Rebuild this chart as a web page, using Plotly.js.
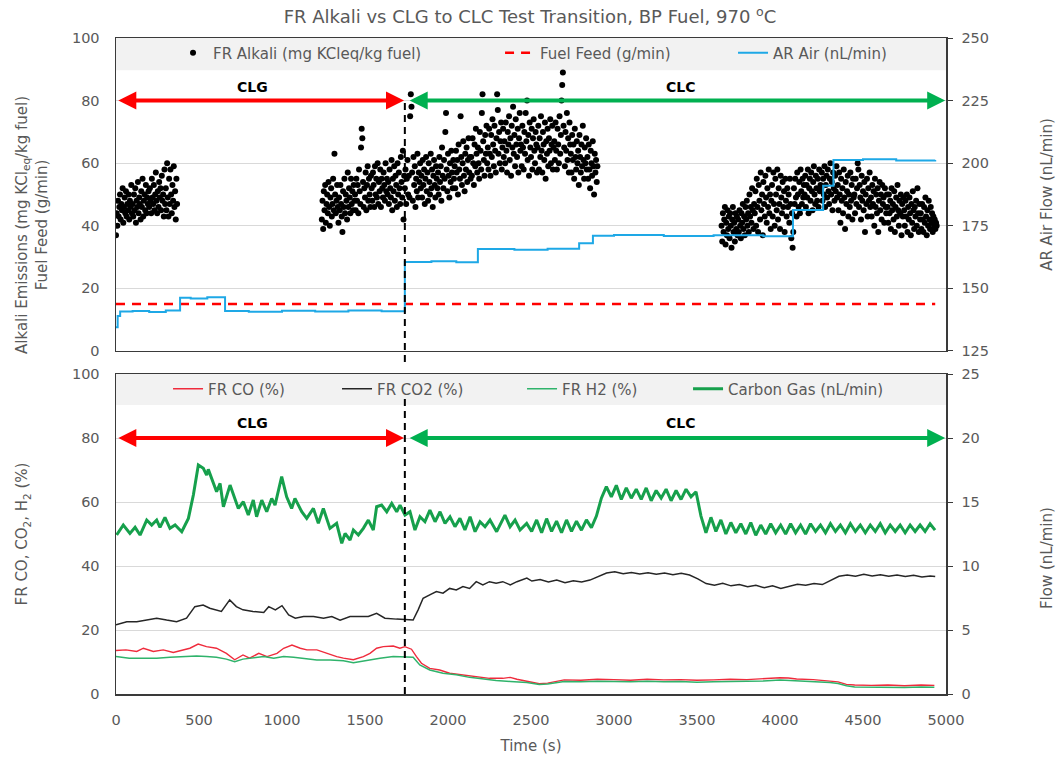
<!DOCTYPE html>
<html>
<head>
<meta charset="utf-8">
<script src="https://cdn.plot.ly/plotly-3.0.1.min.js"></script>
<style>html,body{margin:0;padding:0;background:#fff;}#chart{width:1060px;height:758px;}</style>
</head>
<body>
<div id="chart"></div>
<script>
// ---------- DATA ----------
// FR Alkali (mg KCleq/kg fuel) – three measured segments, sampled every 4 s
const alkaliStep = 4;
const alkaliSegStart = [0, 1240, 3648];
const alkaliSeg1 = [
37,44,40,48,43,46,50,42,47,45,52,41,46,49,44,51,43,47,45,50,42,48,46,53,44,
47,43,50,45,52,41,48,46,54,44,49,47,42,51,46,55,43,48,50,45,53,44,49,47,51,
46,52,48,44,55,49,47,53,45,50,57,48,44,51,46,54,49,52,45,56,48,50,43,58,47,
52,45,60,49,43,55,47,58,50,44,53,48,59,46,51,42,55,47];
const alkaliSeg2 = [
42,48,39,51,45,53,41,47,50,44,54,46,40,49,52,43,47,55,45,63,50,44,48,53,46,
41,49,45,53,47,43,38,51,46,55,44,50,48,42,57,46,52,49,44,55,47,51,45,53,48,
50,45,55,48,53,44,58,51,47,65,71,68,54,46,52,49,57,45,53,59,48,55,50,46,56,
52,48,57,53,46,59,50,55,49,60,47,54,51,58,46,55,52,49,57,53,48,60,51,55,50,
54,47,58,52,49,61,45,55,51,59,48,56,53,46,60,50,57,52,47,62,54,49,64,42,56,
52,58,47,55,61,50,56,49,75,82,78,57,48,62,53,59,46,55,51,63,49,57,54,60,52,
56,49,61,53,58,47,55,62,51,57,48,60,54,50,63,52,58,46,56,61,53,49,59,55,52,
57,50,62,54,59,48,65,56,52,61,55,70,76,58,51,63,56,49,60,54,64,57,52,61,55,
59,52,64,57,61,50,66,58,55,75,62,53,60,67,56,51,63,58,65,54,61,68,57,62,55,
62,56,68,60,53,66,59,71,63,57,65,60,55,70,64,58,76,82,67,61,56,69,63,72,60,
65,58,71,63,56,69,62,74,66,59,72,64,57,68,82,77,63,70,60,67,73,58,65,71,62,
67,60,73,64,57,70,66,75,61,68,56,72,65,78,63,69,59,74,66,62,71,57,68,76,64,
66,59,72,65,58,70,63,76,67,80,61,69,56,73,65,62,71,58,68,74,64,60,70,66,57,
65,72,58,68,62,75,64,57,70,66,61,73,55,67,63,71,59,68,64,74,60,66,72,58,65,
67,61,73,64,58,71,66,60,75,63,69,80,85,89,72,65,59,70,64,76,61,68,57,73,66,
63,57,69,61,66,55,71,62,58,67,60,64,53,69,62,57,66,59,72,61,55,65,60,68,58,
62,55,66,58,52,64,60,56,67,59,50,63,57,61,54,59];
const alkaliSeg3 = [
40,35,44,38,42,46,34,41,37,45,39,43,36,44,40,33,42,46,38,41,35,44,39,43,37,
42,38,45,40,36,44,41,47,39,43,37,46,42,48,40,44,38,50,43,46,41,52,45,39,47,
44,51,40,55,46,38,53,48,42,57,45,50,37,54,47,43,56,49,41,52,46,58,44,50,39,
48,53,43,57,47,40,55,50,45,58,42,52,47,39,56,49,44,54,46,51,38,55,48,43,52,
46,50,41,55,47,36,44,33,38,52,47,55,49,43,57,50,46,54,44,58,51,47,55,49,53,
50,56,46,53,49,58,44,52,55,48,57,51,45,54,59,50,47,56,52,48,55,46,58,51,53,
52,57,48,55,50,59,46,53,56,49,58,51,47,55,60,50,54,45,57,52,48,56,51,59,49,
53,45,57,50,41,55,48,52,44,58,49,39,54,47,51,56,43,50,46,57,48,53,42,55,49,
50,44,55,47,52,60,58,46,53,49,42,56,48,51,45,54,38,50,47,55,43,52,48,57,46,
49,43,53,47,51,40,55,46,50,44,52,38,48,54,45,50,42,53,47,49,41,52,46,44,50,
46,41,50,44,48,39,52,45,47,42,51,38,46,49,43,53,45,40,48,44,50,37,47,43,49,
45,40,48,43,50,38,46,42,49,44,37,47,41,51,45,39,46,43,48,40,52,44,38,47,42,
44,39,47,42,38,46,41,49,43,37,45,40,48,42,39,46,41,44,38,43,40,42,39,41,40];

// Fuel Feed (g/min)
const fuelTime = [0, 4935];
const fuelFeed = [15, 15];

// AR Air (nL/min)
const arAirTime = [0,10,25,100,200,300,386,450,550,657,800,1000,1200,1400,1600,1740,1900,2050,2180,2400,2600,2790,2873,3000,3300,3600,3900,4078,4260,4322,4500,4700,4935];
const arAir     = [134.5,139,140.8,141,140.6,141.2,146.3,146,146.5,141,140.7,141.1,140.8,141.2,140.9,160.5,160.8,160.4,165.7,165.4,165.8,168,171,171.3,170.9,171.2,170.8,181.3,191,201.3,201.6,201.1,201.3];

// FR CO (%)
const coTime = [0,60,125,165,225,285,345,405,445,495,545,605,665,715,765,805,860,910,970,1010,1060,1110,1150,1210,1270,1330,1370,1430,1490,1530,1570,1610,1670,1710,1740,1780,1810,1840,1890,1950,2010,2090,2170,2250,2330,2375,2415,2475,2550,2600,2650,2700,2800,2900,3000,3100,3200,3300,3400,3500,3600,3700,3800,3900,4000,4050,4100,4200,4300,4350,4400,4450,4550,4650,4750,4850,4930];
const coVal  = [13.6,13.8,13.3,14.3,13.3,13.8,13.0,13.8,14.3,15.6,14.8,14.3,12.7,10.7,12.2,11.2,12.7,11.7,12.7,14.3,15.3,14.3,13.8,13.8,12.7,11.7,11.2,10.7,11.7,12.7,14.3,14.8,15.0,14.3,14.8,14.0,11.7,9.6,8.0,7.5,6.5,6.0,5.4,4.9,4.9,5.2,4.6,3.9,3.2,3.4,3.9,4.4,4.3,4.6,4.5,4.3,4.6,4.4,4.5,4.3,4.4,4.6,4.5,4.8,5.1,5.0,4.7,4.5,4.1,3.8,3.0,2.8,2.7,2.8,2.6,2.8,2.7];

// FR CO2 (%)
const co2Time = [0,65,125,185,245,305,365,425,475,525,565,635,685,725,765,825,890,920,960,1000,1040,1080,1130,1190,1250,1300,1350,1410,1470,1520,1570,1620,1690,1750,1790,1820,1850,1890,1930,1970,2010,2050,2090,2130,2170,2210,2250,2290,2330,2375,2415,2475,2505,2555,2605,2655,2705,2755,2805,2855,2905,2955,3005,3055,3105,3155,3205,3255,3305,3355,3405,3455,3505,3555,3605,3655,3705,3755,3805,3855,3905,3955,4005,4055,4105,4155,4205,4255,4305,4355,4405,4455,4505,4555,4605,4655,4705,4755,4805,4855,4905,4935];
const co2Val  = [21.6,22.6,22.6,23.1,23.7,23.1,22.6,23.7,27.3,27.8,26.8,25.8,29.4,27.3,26.3,25.8,25.5,27.3,26.3,27.6,24.7,23.7,24.2,24.2,23.7,24.2,23.1,24.2,24.2,24.2,25.2,23.7,23.4,23.1,23.1,26.3,29.9,31.0,32.0,31.5,33.0,32.5,33.6,33.0,35.1,34.1,35.1,34.6,35.1,34.1,35.1,36.2,35.3,35.8,35.0,35.6,34.8,35.4,35.0,35.6,36.8,37.8,38.2,37.6,38.0,37.5,37.9,37.4,37.8,37.3,37.7,37.2,36.0,34.5,34.0,34.6,33.8,34.2,33.5,34.0,33.2,33.8,33.0,33.6,34.3,34.0,34.5,34.2,35.5,36.8,37.2,36.8,37.4,36.9,37.3,36.8,37.2,36.7,37.1,36.6,36.9,36.7];

// FR H2 (%)
const h2Time = [0,80,165,245,325,405,485,545,605,665,715,765,825,890,950,1010,1070,1130,1210,1290,1370,1430,1510,1590,1670,1750,1790,1830,1890,1970,2050,2130,2210,2290,2375,2475,2550,2600,2650,2700,2800,2900,3000,3100,3200,3300,3400,3500,3600,3700,3800,3900,4000,4050,4100,4200,4300,4350,4400,4450,4550,4650,4750,4850,4930];
const h2Val  = [11.7,11.2,11.2,11.2,11.5,11.7,11.9,11.7,11.5,10.9,10.1,10.9,11.2,11.7,11.2,11.7,11.5,11.2,10.6,10.6,10.4,9.8,10.6,11.2,11.7,11.7,11.5,9.1,7.5,6.5,6.0,5.2,4.6,4.2,3.9,3.6,3.0,3.1,3.5,3.9,3.8,4.0,3.9,3.8,4.0,3.8,3.9,3.7,3.8,3.9,3.9,4.1,4.4,4.3,4.1,3.9,3.6,3.3,2.6,2.2,2.1,2.2,2.0,2.2,2.1];

// Carbon Gas (nL/min)
const cgTime = [4,44,84,115,145,185,215,245,265,295,325,356,396,436,466,496,526,546,556,586,606,627,647,687,737,767,797,827,847,878,908,938,958,998,1028,1058,1078,1119,1149,1189,1219,1249,1289,1329,1360,1380,1410,1430,1460,1490,1520,1550,1570,1600,1631,1661,1691,1711,1741,1771,1801,1831,1861,1891,1922,1952,1982,2012,2042,2072,2102,2133,2163,2193,2223,2253,2293,2343,2374,2404,2434,2474,2504,2534,2564,2594,2624,2654,2684,2714,2744,2774,2804,2834,2864,2894,2924,2954,2984,3014,3044,3074,3104,3134,3164,3194,3224,3254,3284,3314,3344,3374,3404,3434,3464,3494,3524,3554,3584,3614,3644,3674,3704,3734,3764,3794,3824,3854,3884,3914,3944,3974,4004,4034,4064,4094,4124,4154,4184,4214,4244,4274,4304,4334,4364,4394,4424,4454,4484,4514,4544,4574,4604,4634,4664,4694,4724,4754,4784,4814,4844,4874,4904,4934];
const cgVal  = [12.42,13.2,12.55,13.02,12.42,13.59,13.2,13.59,13.02,13.8,12.94,13.2,12.68,13.72,15.54,17.89,17.63,17.1,17.55,16.45,15.8,16.45,14.63,16.32,14.5,15.02,13.98,15.15,13.85,15.15,14.24,15.28,14.76,16.98,15.41,14.5,15.28,14.24,13.72,14.5,13.33,14.5,12.94,13.33,11.77,12.55,12.03,12.81,12.42,12.94,13.59,12.81,14.63,14.76,14.24,14.89,14.24,14.76,13.98,14.24,12.81,13.85,13.46,14.37,13.46,14.24,13.33,13.85,13.07,13.72,12.81,13.85,12.68,13.46,13.07,13.59,12.68,13.98,13.07,13.59,12.81,13.33,12.7,13.6,12.6,13.7,12.7,13.5,12.6,13.6,12.7,13.5,12.8,13.6,13.0,13.9,15.3,16.2,15.4,16.3,15.2,16.1,15.3,16.0,15.2,16.1,15.1,15.9,15.3,16.0,15.1,15.9,15.2,16.0,15.4,15.8,13.9,12.6,13.8,12.7,13.6,12.5,13.4,12.6,13.3,12.5,13.4,12.4,13.2,12.5,13.3,12.6,13.2,12.5,13.3,12.6,13.2,12.5,13.3,12.7,13.2,12.6,13.3,12.7,13.2,12.6,13.3,12.7,13.2,12.6,13.2,12.7,13.3,12.6,13.2,12.7,13.2,12.6,13.2,12.7,13.2,12.7,13.3,12.8];

// Phase labels and transition time
const transitionTime = 1740;
const phaseLabels = ['CLG', 'CLC'];

// ---------- BUILD ----------
function segX(start, arr) { return arr.map((_, i) => start + i * alkaliStep); }
const alkX = [].concat(segX(alkaliSegStart[0], alkaliSeg1), [null], segX(alkaliSegStart[1], alkaliSeg2), [null], segX(alkaliSegStart[2], alkaliSeg3));
const alkY = [].concat(alkaliSeg1, [null], alkaliSeg2, [null], alkaliSeg3);

const gray = '#595959';
const FONT = '"DejaVu Sans", sans-serif';
const axisLine = '#3a3a3a';

const traces = [
  {x: alkX, y: alkY, name: 'FR Alkali (mg KCleq/kg fuel)', mode: 'markers', type: 'scatter',
   marker: {color: '#000', size: 6}, xaxis: 'x2', yaxis: 'y3', legend: 'legend', showlegend: true},
  {x: fuelTime, y: fuelFeed, name: 'Fuel Feed (g/min)', mode: 'lines', type: 'scatter',
   line: {color: '#ff0000', width: 2.5, dash: '9px,7px'}, xaxis: 'x2', yaxis: 'y3', legend: 'legend2'},
  {x: arAirTime, y: arAir, name: 'AR Air (nL/min)', mode: 'lines', type: 'scatter',
   line: {color: '#1ea8e6', width: 2, shape: 'hv'}, xaxis: 'x2', yaxis: 'y4', legend: 'legend3'},
  {x: coTime, y: coVal, name: 'FR CO (%)', mode: 'lines', type: 'scatter',
   line: {color: '#ef2b3c', width: 1.4}, xaxis: 'x', yaxis: 'y', legend: 'legend4'},
  {x: co2Time, y: co2Val, name: 'FR CO2 (%)', mode: 'lines', type: 'scatter',
   line: {color: '#262626', width: 1.5}, xaxis: 'x', yaxis: 'y', legend: 'legend5'},
  {x: h2Time, y: h2Val, name: 'FR H2 (%)', mode: 'lines', type: 'scatter',
   line: {color: '#2fb36b', width: 1.5}, xaxis: 'x', yaxis: 'y', legend: 'legend6'},
  {x: cgTime, y: cgVal, name: 'Carbon Gas (nL/min)', mode: 'lines', type: 'scatter',
   line: {color: '#16a04c', width: 3}, xaxis: 'x', yaxis: 'y2', legend: 'legend7'}
];

const botTop = 0.4878, topBot = 0.5229;

function leg(x, y) {
  return {orientation: 'h', x: x, y: y, xanchor: 'left', yanchor: 'middle', xref: 'paper', yref: 'paper',
    bgcolor: 'rgba(0,0,0,0)', font: {family: FONT, size: 15, color: gray}, itemwidth: 30, visible: true};
}

const tickFont = {family: FONT, size: 14.5, color: gray};
const titleFont = {family: FONT, size: 15, color: gray};

function arrow(xref, yref, x, ax, color) {
  return {xref: xref, yref: yref, axref: xref, ayref: yref, x: x, y: 80, ax: ax, ay: 80, text: '',
    showarrow: true, arrowside: 'end+start', arrowhead: 2, startarrowhead: 2, arrowwidth: 4,
    arrowsize: 0.9, startarrowsize: 0.9, arrowcolor: color};
}
function label(xref, yref, x, y, t) {
  return {xref: xref, yref: yref, x: x, y: y, text: '<b>' + t + '</b>', showarrow: false,
    font: {family: FONT, size: 14, color: '#000'}};
}

const layout = {
  width: 1060, height: 758,
  showlegend: true,
  margin: {l: 116, r: 114, t: 38, b: 64},
  paper_bgcolor: '#fff', plot_bgcolor: 'rgba(0,0,0,0)',
  font: {family: FONT, color: gray},
  title: {text: 'FR Alkali vs CLG to CLC Test Transition, BP Fuel, 970 <sup>o</sup>C',
          font: {family: FONT, size: 18, color: gray}, x: 0.5, xref: 'container', xanchor: 'center',
          y: 1 - 17/758, yref: 'container', yanchor: 'middle'},
  xaxis: {domain: [0, 1], anchor: 'y', range: [0, 5000], dtick: 500, tick0: 0, showgrid: false,
          zeroline: false, showline: true, linecolor: axisLine, linewidth: 1.5, mirror: true,
          ticks: '', tickfont: tickFont, ticklabelstandoff: 12,
          title: {text: 'Time (s)', font: titleFont, standoff: 13}},
  xaxis2: {domain: [0, 1], anchor: 'y3', matches: 'x', range: [0, 5000], showticklabels: false,
          showgrid: false, zeroline: false, showline: true, linecolor: axisLine, linewidth: 1.5, mirror: true, ticks: ''},
  yaxis: {domain: [0, botTop], anchor: 'x', range: [0, 100], dtick: 20, showgrid: true, gridcolor: '#d9d9d9',
          zeroline: false, showline: true, linecolor: axisLine, linewidth: 1.5, mirror: true, ticks: '',
          tickfont: tickFont, ticklabelstandoff: 12,
          title: {text: 'FR CO, CO<sub>2</sub>, H<sub>2</sub> (%)', font: titleFont, standoff: 40}},
  yaxis2: {overlaying: 'y', anchor: 'x', side: 'right', range: [0, 25], dtick: 5, showgrid: false, zeroline: false,
          showline: true, linecolor: axisLine, linewidth: 1.5, ticks: 'outside', ticklen: 5, tickcolor: axisLine,
          tickfont: tickFont, ticklabelstandoff: 6},
  yaxis3: {domain: [topBot, 1], anchor: 'x2', range: [0, 100], dtick: 20, showgrid: true, gridcolor: '#d9d9d9',
          zeroline: false, showline: true, linecolor: axisLine, linewidth: 1.5, mirror: true, ticks: '',
          tickfont: tickFont, ticklabelstandoff: 12},
  yaxis4: {overlaying: 'y3', anchor: 'x2', side: 'right', range: [125, 250], dtick: 25, showgrid: false, zeroline: false,
          showline: true, linecolor: axisLine, linewidth: 1.5, ticks: 'outside', ticklen: 5, tickcolor: axisLine,
          tickfont: tickFont, ticklabelstandoff: 6,
          title: {text: 'AR Air Flow (nL/min)', font: titleFont, standoff: 53}},
  legend: leg(0.0687, 0.977),
  legend2: leg(0.4627, 0.977),
  legend3: leg(0.7434, 0.977),
  legend4: leg(0.0627, 0.465),
  legend5: leg(0.2663, 0.465),
  legend6: leg(0.4892, 0.465),
  legend7: leg(0.6892, 0.465),
  shapes: [
    {type: 'rect', xref: 'paper', yref: 'paper', x0: 0, x1: 1, y0: 0.951, y1: 1, fillcolor: '#f2f2f2', line: {width: 0}, layer: 'below'},
    {type: 'rect', xref: 'paper', yref: 'paper', x0: 0, x1: 1, y0: 0.4405, y1: botTop, fillcolor: '#f2f2f2', line: {width: 0}, layer: 'below'},
    {type: 'line', xref: 'x', yref: 'paper', x0: transitionTime, x1: transitionTime, y0: 0.506, y1: 0.905, line: {color: '#000', width: 2, dash: '7px,5px'}},
    {type: 'line', xref: 'x', yref: 'paper', x0: transitionTime, x1: transitionTime, y0: 0, y1: 0.453, line: {color: '#000', width: 2, dash: '7px,5px'}}
  ],
  annotations: [
    arrow('x2', 'y3', 1735, 5, '#ff0000'),
    arrow('x2', 'y3', 4995, 1760, '#00b050'),
    arrow('x', 'y', 1735, 5, '#ff0000'),
    arrow('x', 'y', 4995, 1760, '#00b050'),
    label('x2', 'y3', 825, 84.3, phaseLabels[0]),
    label('x2', 'y3', 3400, 84.3, phaseLabels[1]),
    label('x', 'y', 825, 84.7, phaseLabels[0]),
    label('x', 'y', 3400, 84.7, phaseLabels[1]),
    {xref: 'paper', yref: 'paper', x: -0.1012, y: 0.715, xanchor: 'center', yanchor: 'middle', textangle: -90,
     showarrow: false, text: 'Alkali Emissions (mg KCl<sub>eq</sub>/kg fuel)<br>Fuel Feed (g/min)', font: titleFont},
    {xref: 'paper', yref: 'paper', x: 1.1217, y: 0.2073, xanchor: 'center', yanchor: 'middle', textangle: -90,
     showarrow: false, text: 'Flow (nL/min)', font: titleFont}
  ]
};

Plotly.newPlot('chart', traces, layout, {staticPlot: true, displayModeBar: false});
</script>
</body>
</html>
